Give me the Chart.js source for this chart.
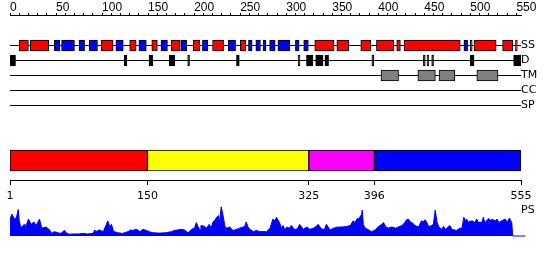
<!DOCTYPE html>
<html>
<head>
<meta charset="utf-8">
<style>
html,body{margin:0;padding:0;background:#fff;}
#wrap{position:relative;width:550px;height:260px;}
#wrap canvas{position:absolute;left:0;top:0;display:block;}
</style>
<script src="https://cdn.jsdelivr.net/npm/chart.js@4.4.0/dist/chart.umd.min.js"></script>
</head>
<body>
<div id="wrap">
<canvas id="c" width="550" height="260"></canvas>
<canvas id="r" width="550" height="260"></canvas>
</div>
<script>
// ---------- data ----------
const seqLength = 555;
const rulerLabels = [0, 50, 100, 150, 200, 250, 300, 350, 400, 450, 500, 550];
const rulerMinorStep = 10;
const trackNames = ['SS', 'D', 'TM', 'CC', 'SP'];
const profileName = 'PS';

// secondary structure: H = helix (red), E = strand (blue)
const ssStart = [10, 22, 48, 56, 75, 86, 99, 115, 130, 140, 154, 164, 175, 186, 199, 209, 220, 237, 250, 259, 267, 275, 282, 291, 310, 319, 331, 355, 381, 398, 420, 428, 493, 500, 504, 535, 549];
const ssEnd   = [20, 42, 54, 70, 81, 95, 112, 123, 137, 148, 160, 171, 185, 192, 206, 215, 232, 245, 256, 263, 272, 278, 288, 304, 314, 324, 352, 368, 392, 417, 424, 489, 497, 502, 528, 546, 551];
const ssType  = ['H','H','E','E','E','E','H','E','H','E','H','E','H','E','H','E','H','E','H','E','E','E','E','E','E','E','H','H','H','H','H','H','E','E','H','H','H'];

// disorder
const dStart = [0, 124, 151, 173, 193, 246, 313, 322, 332, 342, 393, 449, 453, 458, 500, 547];
const dEnd   = [6, 127, 155, 179, 195, 249, 315, 329, 340, 346, 395, 451, 455, 460, 504, 555];

// transmembrane
const tmStart = [403, 443, 466, 507];
const tmEnd   = [422, 462, 483, 530];

// coiled coil / signal peptide (none)
const ccStart = [], ccEnd = [];
const spStart = [], spEnd = [];

// domains
const domainStart  = [1, 150, 325, 396];
const domainEnd    = [150, 325, 396, 555];
const domainColors = ['#ff0000', '#ffff00', '#ff00ff', '#0000ff'];
const domainTicks  = [1, 150, 325, 396, 555];

// profile (PS)
const psResidue = [1,3,6,8,10,11,13,15,17,18,21,24,26,27,29,31,33,35,36,40,44,46,49,53,56,60,62,65,69,75,80,85,91,93,94,98,102,105,107,109,111,113,114,118,123,129,132,134,138,142,145,149,152,156,163,170,176,179,183,187,190,194,198,201,203,205,207,208,212,214,217,219,221,223,225,227,228,230,232,234,236,239,243,247,250,254,256,257,259,261,265,268,272,279,283,286,288,
290,294,295,297,299,301,304,306,310,313,315,319,323,326,330,333,335,339,342,344,348,352,355,359,362,366,370,373,375,377,379,380,382,383,384,386,390,393,397,400,404,406,408,411,415,419,422,426,429,431,433,435,437,440,444,447,449,451,453,455,458,460,462,464,466,469,471,473,476,478,480,485,487,489,491,493,495,496,498,502,505,507,509,513,514,516,520,522,523,527,529,531,534,538,540,542,543,545,546,560];
const psScore = [.58,.75,.58,.64,.91,.52,.27,.36,.40,.31,.58,.40,.46,.48,.36,.46,.58,.33,.27,.31,.21,.09,.15,.11,.09,.19,.11,.06,.07,.07,.09,.07,.09,.21,.15,.21,.15,.36,.52,.33,.40,.19,.15,.11,.09,.15,.21,.19,.23,.15,.23,.19,.15,.11,.10,.11,.15,.19,.21,.23,.21,.11,.23,.27,.46,.31,.21,.36,.33,.27,.40,.27,.48,.54,.64,.70,.46,1.0,.70,.33,.27,.31,.19,.23,.27,.31,.36,.48,.31,.23,.15,.19,.15,.15,.27,.58,.52,
.64,.40,.27,.36,.21,.31,.27,.36,.21,.27,.40,.23,.31,.23,.27,.33,.40,.23,.23,.40,.21,.27,.30,.31,.31,.33,.36,.52,.46,.58,.60,.64,.73,.89,.40,.27,.21,.15,.21,.31,.40,.46,.33,.27,.31,.27,.31,.36,.46,.56,.58,.48,.46,.36,.31,.52,.48,.56,.46,.31,.36,.40,.89,.46,.31,.23,.33,.23,.31,.36,.23,.19,.23,.27,.27,.64,.52,.58,.48,.52,.46,.58,.46,.48,.64,.46,.60,.52,.58,.52,.58,.46,.52,.58,.46,.60,.58,.46,0,0];

// ---------- layout (rows on the track axis, 15px each) ----------
const rulerRow = 1;
const trackRow = {SS: 3, D: 4, TM: 5, CC: 6, SP: 7};
const domainRow = 10.667;
const axisRow = 12;
const profileRow = 14;
const rowMax = 15.7;
const psMax = 8.08;

const FONT = {family: 'DejaVu Sans', size: 11};

function spans(starts, ends, row) {
  return starts.map((s, i) => ({x: [s, ends[i]], y: row}));
}
function boxSet(starts, ends, row, fill, thickness) {
  return {
    type: 'bar', indexAxis: 'y', xAxisID: 'x', yAxisID: 'y',
    data: spans(starts, ends, row),
    backgroundColor: fill, borderColor: '#000', borderWidth: 1,
    borderSkipped: false, barThickness: thickness, grouped: false, order: 1
  };
}

const datasets = [];
trackNames.forEach(name => {
  datasets.push({
    type: 'line', xAxisID: 'x', yAxisID: 'y',
    data: [{x: 0, y: trackRow[name]}, {x: seqLength, y: trackRow[name]}],
    borderColor: '#000', borderWidth: 1, pointRadius: 0, fill: false, order: 3
  });
});
datasets.push(boxSet(ssStart, ssEnd, trackRow.SS, ssType.map(t => t === 'H' ? '#ff0000' : '#0000ff'), 11));
datasets.push(boxSet(dStart, dEnd, trackRow.D, '#000000', 11));
datasets.push(boxSet(tmStart, tmEnd, trackRow.TM, '#808080', 11));
datasets.push(boxSet(ccStart, ccEnd, trackRow.CC, '#808080', 11));
datasets.push(boxSet(spStart, spEnd, trackRow.SP, '#808080', 11));
datasets.push({
  type: 'bar', indexAxis: 'y', xAxisID: 'x2', yAxisID: 'y',
  data: spans(domainStart, domainEnd, domainRow),
  backgroundColor: domainColors, borderColor: '#000', borderWidth: 1,
  borderSkipped: false, barThickness: 21, grouped: false, order: 1
});
datasets.push({
  type: 'line', xAxisID: 'x2', yAxisID: 'yps',
  data: psResidue.map((r, i) => ({x: r, y: psScore[i]})),
  borderColor: '#0000ff', backgroundColor: '#0000ff', borderWidth: 1,
  pointRadius: 0, tension: 0, fill: 'origin', order: 1,
  clip: {left: 0, top: 0, right: 6, bottom: 1}
});

const rightLabels = trackNames.concat([profileName]);
const rightRows = trackNames.map(n => trackRow[n]).concat([profileRow]);

const minorTicks = [];
for (let v = 0; v <= rulerLabels[rulerLabels.length - 1]; v += rulerMinorStep) minorTicks.push(v);

const flatFit = s => { s.height = 0; s.paddingLeft = 0; s.paddingRight = 0; s.paddingTop = 0; s.paddingBottom = 0; };

// ---------- main chart: tracks, domains, profile ----------
new Chart(document.getElementById('c'), {
  type: 'line',
  data: {datasets},
  options: {
    responsive: false, animation: false, devicePixelRatio: 1, events: [],
    layout: {padding: {left: 10, right: 0, top: 0.5, bottom: 24}},
    plugins: {legend: {display: false}, tooltip: {enabled: false}},
    scales: {
      x: {
        type: 'linear', axis: 'x', display: false, min: 0, max: seqLength, offset: false,
        grid: {offset: false}
      },
      x2: {
        type: 'linear', axis: 'x', position: {y: axisRow}, min: 1, max: seqLength, offset: false,
        afterBuildTicks: s => { s.ticks = domainTicks.map(v => ({value: v})); },
        afterFit: flatFit,
        grid: {drawOnChartArea: false, drawTicks: true, tickLength: 4, color: '#000', lineWidth: 1, offset: false},
        border: {display: true, color: '#000', width: 1},
        ticks: {autoSkip: false, maxRotation: 0, minRotation: 0, padding: 5, color: '#000', font: FONT,
          callback: v => String(v)}
      },
      y: {
        type: 'linear', axis: 'y', position: 'right', reverse: true, min: 0, max: rowMax, offset: false,
        afterBuildTicks: s => { s.ticks = rightRows.map(v => ({value: v})); },
        afterFit: s => { s.width = 29; s.paddingTop = 0; s.paddingBottom = 0; },
        grid: {display: false, drawTicks: false, offset: false},
        border: {display: false},
        ticks: {autoSkip: false, padding: 0, color: '#000', font: FONT,
          callback: v => { const i = rightRows.indexOf(v); return i >= 0 ? rightLabels[i] : ''; }}
      },
      yps: {
        type: 'linear', axis: 'y', display: false, min: 0, max: psMax
      }
    }
  }
});

// ---------- ruler chart (same horizontal scale, transparent overlay) ----------
new Chart(document.getElementById('r'), {
  type: 'line',
  data: {datasets: [{type: 'line', xAxisID: 'x', yAxisID: 'y', data: [{x: 0, y: 0}], showLine: false, pointRadius: 0, borderWidth: 0}]},
  options: {
    responsive: false, animation: false, devicePixelRatio: 1, events: [],
    layout: {padding: {left: 10, right: 29, top: 0.5, bottom: 24}},
    plugins: {legend: {display: false}, tooltip: {enabled: false}},
    scales: {
      x: {
        type: 'linear', axis: 'x', position: {y: rulerRow}, min: 0, max: seqLength, offset: false,
        afterBuildTicks: s => { s.ticks = minorTicks.map(v => ({value: v})); },
        afterFit: flatFit,
        grid: {display: true, drawOnChartArea: false, drawTicks: true, tickLength: -3, color: '#000', lineWidth: 1, offset: false},
        border: {display: true, color: '#000', width: 1},
        ticks: {autoSkip: false, maxRotation: 0, align: 'start', padding: -12.5, color: '#000',
          callback: v => rulerLabels.includes(v) ? String(v) : ''}
      },
      y: {type: 'linear', reverse: true, min: 0, max: rowMax, display: false}
    }
  }
});
</script>
</body>
</html>
